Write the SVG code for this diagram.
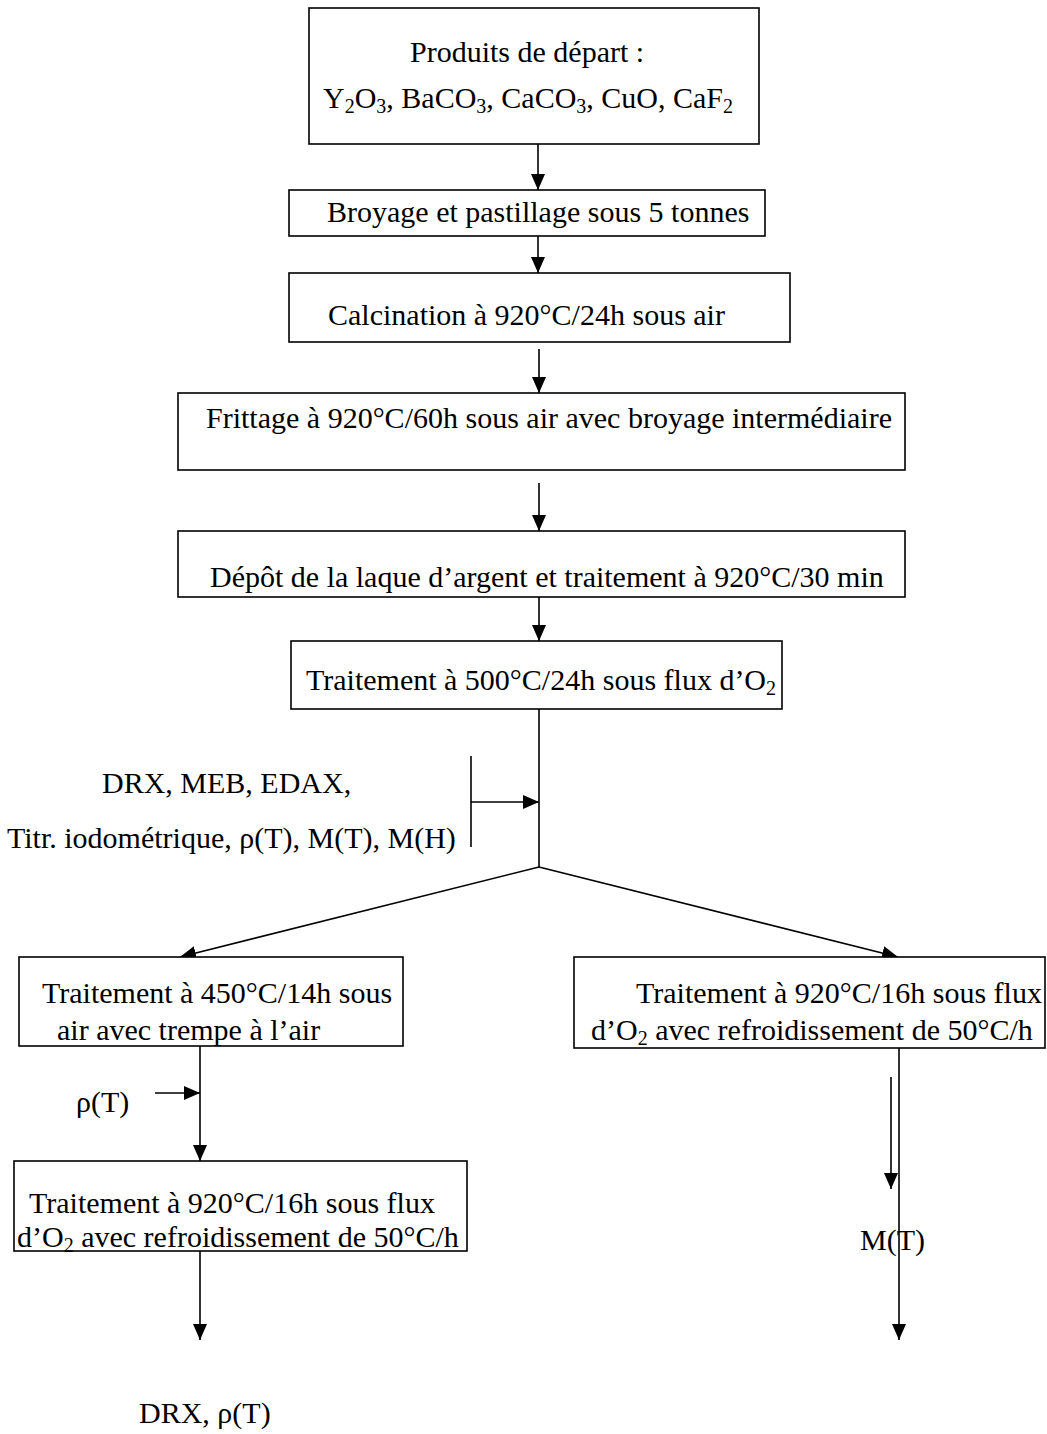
<svg xmlns="http://www.w3.org/2000/svg" width="1047" height="1434" viewBox="0 0 1047 1434">
<style>
.b{fill:#fff;stroke:#000;stroke-width:1.6}
.t{font-family:"Liberation Serif","Times New Roman",serif;font-size:30px;fill:#000}
.s{font-size:20px}
.c{stroke:#000;stroke-width:1.6;fill:none}
</style>
<defs>
<marker id="ah" markerWidth="16" markerHeight="14" refX="16" refY="7" orient="auto" markerUnits="userSpaceOnUse" viewBox="0 0 16 14">
<path d="M0,0 L16,7 L0,14 Z" fill="#000"/>
</marker>
</defs>
<rect width="1047" height="1434" fill="#fff"/>
<g id="connectors">
<line class="c" x1="538" y1="144" x2="538" y2="190" marker-end="url(#ah)"/>
<line class="c" x1="538" y1="236" x2="538" y2="273" marker-end="url(#ah)"/>
<line class="c" x1="539" y1="349" x2="539" y2="393" marker-end="url(#ah)"/>
<line class="c" x1="539" y1="483" x2="539" y2="531" marker-end="url(#ah)"/>
<line class="c" x1="539" y1="597" x2="539" y2="641" marker-end="url(#ah)"/>
<line class="c" x1="539" y1="709" x2="539" y2="867"/>
<line class="c" x1="471" y1="756" x2="471" y2="847"/>
<line class="c" x1="471" y1="802" x2="539" y2="802" marker-end="url(#ah)"/>
<line class="c" x1="539" y1="867" x2="180" y2="957" marker-end="url(#ah)"/>
<line class="c" x1="539" y1="867" x2="898" y2="957" marker-end="url(#ah)"/>
<line class="c" x1="200" y1="1046" x2="200" y2="1161" marker-end="url(#ah)"/>
<line class="c" x1="155" y1="1093" x2="200" y2="1093" marker-end="url(#ah)"/>
<line class="c" x1="200" y1="1251" x2="200" y2="1340" marker-end="url(#ah)"/>
<line class="c" x1="899" y1="1048" x2="899" y2="1340" marker-end="url(#ah)"/>
<line class="c" x1="891" y1="1077" x2="891" y2="1189" marker-end="url(#ah)"/>
</g>
<g id="n1">
<rect class="b" x="309" y="8" width="450" height="136"/>
<text class="t" x="410" y="62">Produits de départ :</text>
<text class="t" x="323" y="108">Y<tspan class="s" dy="5">2</tspan><tspan dy="-5">O</tspan><tspan class="s" dy="5">3</tspan><tspan dy="-5">, BaCO</tspan><tspan class="s" dy="5">3</tspan><tspan dy="-5">, CaCO</tspan><tspan class="s" dy="5">3</tspan><tspan dy="-5">, CuO, CaF</tspan><tspan class="s" dy="5">2</tspan></text>
</g>
<g id="n2">
<rect class="b" x="289" y="190" width="476" height="46"/>
<text class="t" x="327" y="222">Broyage et pastillage sous 5 tonnes</text>
</g>
<g id="n3">
<rect class="b" x="289" y="273" width="501" height="69"/>
<text class="t" x="328" y="325">Calcination à 920°C/24h sous air</text>
</g>
<g id="n4">
<rect class="b" x="178" y="393" width="727" height="77"/>
<text class="t" x="206" y="428">Frittage à 920°C/60h sous air avec broyage intermédiaire</text>
</g>
<g id="n5">
<rect class="b" x="178" y="531" width="727" height="66"/>
<text class="t" x="210" y="587">Dépôt de la laque d’argent et traitement à 920°C/30 min</text>
</g>
<g id="n6">
<rect class="b" x="291" y="641" width="491" height="68"/>
<text class="t" x="306" y="690">Traitement à 500°C/24h sous flux d’O<tspan class="s" dy="5">2</tspan></text>
</g>
<g id="l1">
<text class="t" x="102" y="793">DRX, MEB, EDAX,</text>
<text class="t" x="7" y="848">Titr. iodométrique, ρ(T), M(T), M(H)</text>
</g>
<g id="n7">
<rect class="b" x="19" y="957" width="384" height="89"/>
<text class="t" x="42" y="1003">Traitement à 450°C/14h sous</text>
<text class="t" x="57" y="1040">air avec trempe à l’air</text>
</g>
<g id="l2">
<text class="t" x="76" y="1112">ρ(T)</text>
</g>
<g id="n8">
<rect class="b" x="14" y="1161" width="453" height="90"/>
<text class="t" x="29" y="1213">Traitement à 920°C/16h sous flux</text>
<text class="t" x="17" y="1247">d’O<tspan class="s" dy="5">2</tspan><tspan dy="-5"> avec refroidissement de 50°C/h</tspan></text>
</g>
<g id="l3">
<text class="t" x="139" y="1423">DRX, ρ(T)</text>
</g>
<g id="n9">
<rect class="b" x="574" y="957" width="471" height="91"/>
<text class="t" x="636" y="1003">Traitement à 920°C/16h sous flux</text>
<text class="t" x="591" y="1040">d’O<tspan class="s" dy="5">2</tspan><tspan dy="-5"> avec refroidissement de 50°C/h</tspan></text>
</g>
<g id="l4">
<text class="t" x="860" y="1250">M(T)</text>
</g>
</svg>
